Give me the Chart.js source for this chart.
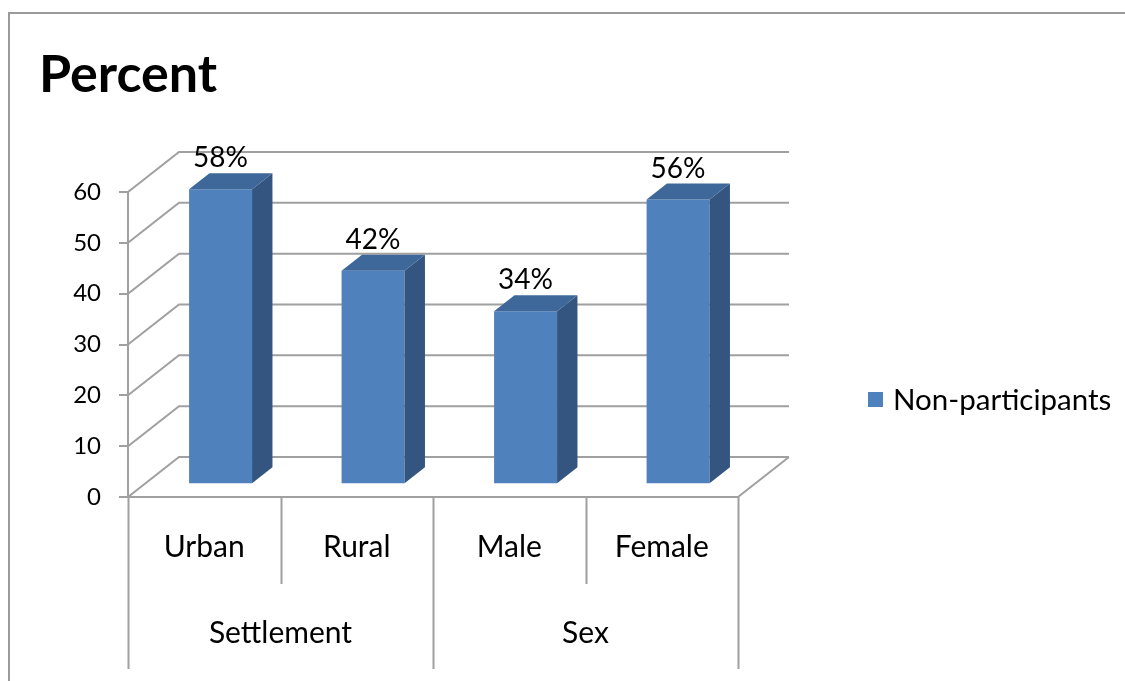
<!DOCTYPE html>
<html><head><meta charset="utf-8">
<script src="https://cdn.jsdelivr.net/npm/chart.js@4.4.1/dist/chart.umd.min.js"></script>
<style>html,body{margin:0;padding:0;background:#fff;} canvas{display:block;}</style>
</head><body>
<canvas id="c" width="1125" height="681" style="width:1125px;height:681px"></canvas>
<script>
const chartTitle = 'Percent';
const categories = ['Urban', 'Rural', 'Male', 'Female'];
const groups = ['Settlement', 'Sex'];
const groupSizes = [2, 2];
const seriesName = 'Non-participants';
const values = [58, 42, 34, 56];
const yTicks = [0, 10, 20, 30, 40, 50, 60];

const FONT = 'Lato, "Open Sans", sans-serif';
const GRID = '#a0a0a0';
const DEPTH_X = 51, DEPTH_Y = 40;
const BAR_FRONT = 0.32, BAR_BACK = 0.72;
const COL_FRONT = '#4f81bd', COL_TOP = '#3e6899', COL_SIDE = '#33557f';

const threeD = {
  id: 'threeD',
  beforeDraw(chart) {
    const ctx = chart.ctx;
    ctx.save();
    ctx.fillStyle = '#fff';
    ctx.fillRect(0, 0, chart.width, chart.height);
    ctx.strokeStyle = '#9a9a9a';
    ctx.lineWidth = 2;
    ctx.strokeRect(9, 13, chart.width + 50, chart.height + 50);
    ctx.fillStyle = '#000';
    ctx.font = 'bold 52px ' + FONT;
    ctx.textAlign = 'left';
    ctx.textBaseline = 'alphabetic';
    ctx.fillText(chartTitle, 39, 92);
    ctx.restore();
  },
  beforeDatasetsDraw(chart) {
    const ctx = chart.ctx, xs = chart.scales.x, ys = chart.scales.y;
    const L = xs.left, R = xs.right;
    ctx.save();
    ctx.strokeStyle = GRID;
    ctx.lineWidth = 2;
    ctx.beginPath();
    ys.ticks.forEach(t => {
      const py = ys.getPixelForValue(t.value);
      ctx.moveTo(L, py);
      ctx.lineTo(L + DEPTH_X, py - DEPTH_Y);
      ctx.lineTo(R + DEPTH_X, py - DEPTH_Y);
    });
    const p0 = ys.getPixelForValue(0);
    ctx.moveTo(R, p0);
    ctx.lineTo(R + DEPTH_X, p0 - DEPTH_Y);
    ctx.stroke();
    ctx.restore();
    ctx.save();
    ctx.translate(DEPTH_X * BAR_FRONT, -DEPTH_Y * BAR_FRONT);
  },
  afterDatasetsDraw(chart) {
    const ctx = chart.ctx;
    ctx.restore();
    const meta = chart.getDatasetMeta(0);
    const fx = DEPTH_X * BAR_FRONT, fy = DEPTH_Y * BAR_FRONT;
    const bx = DEPTH_X * (BAR_BACK - BAR_FRONT), by = DEPTH_Y * (BAR_BACK - BAR_FRONT);
    ctx.save();
    meta.data.forEach((bar, i) => {
      const p = bar.getProps(['x', 'y', 'base', 'width'], true);
      const l = p.x - p.width / 2 + fx, r = p.x + p.width / 2 + fx;
      const t = p.y - fy, b = p.base - fy;
      ctx.fillStyle = COL_SIDE;
      ctx.beginPath();
      ctx.moveTo(r, t); ctx.lineTo(r + bx, t - by); ctx.lineTo(r + bx, b - by); ctx.lineTo(r, b);
      ctx.closePath(); ctx.fill();
      ctx.fillStyle = COL_TOP;
      ctx.beginPath();
      ctx.moveTo(l, t); ctx.lineTo(l + bx, t - by); ctx.lineTo(r + bx, t - by); ctx.lineTo(r, t);
      ctx.closePath(); ctx.fill();
      ctx.fillStyle = '#000';
      ctx.font = '28px ' + FONT;
      ctx.textAlign = 'center';
      ctx.textBaseline = 'alphabetic';
      ctx.fillText(values[i] + '%', (l + r) / 2, t - by - 6);
    });
    ctx.restore();
  },
  afterDraw(chart) {
    const ctx = chart.ctx, xs = chart.scales.x;
    const top = chart.chartArea.bottom;
    const half = (xs.getPixelForValue(1) - xs.getPixelForValue(0)) / 2;
    ctx.save();
    ctx.strokeStyle = GRID;
    ctx.lineWidth = 2;
    ctx.beginPath();
    let idx = 0;
    const bounds = [0];
    groupSizes.forEach(n => { idx += n; bounds.push(idx); });
    for (let k = 0; k <= categories.length; k++) {
      const px = Math.round(xs.getPixelForValue(k) - half) + 0.5;
      const long = bounds.includes(k);
      ctx.moveTo(px, top);
      ctx.lineTo(px, long ? top + 172 : top + 87);
    }
    ctx.stroke();
    ctx.fillStyle = '#000';
    ctx.font = '30px ' + FONT;
    ctx.textAlign = 'center';
    ctx.textBaseline = 'middle';
    groups.forEach((g, gi) => {
      const a = xs.getPixelForValue(bounds[gi]) - half;
      const b = xs.getPixelForValue(bounds[gi + 1]) - half;
      ctx.fillText(g, (a + b) / 2, top + 136);
    });
    // legend
    ctx.fillStyle = COL_FRONT;
    ctx.fillRect(868, 392, 15, 15);
    ctx.fillStyle = '#000';
    ctx.textAlign = 'left';
    ctx.font = '29.5px ' + FONT;
    ctx.fillText(seriesName, 893, 400);
    ctx.restore();
  }
};

new Chart(document.getElementById('c'), {
  type: 'bar',
  data: {
    labels: categories,
    datasets: [{
      label: seriesName,
      data: values,
      backgroundColor: COL_FRONT,
      borderWidth: 0,
      categoryPercentage: 1,
      barPercentage: 0.413,
      clip: false
    }]
  },
  options: {
    responsive: false,
    animation: false,
    devicePixelRatio: 1,
    layout: { padding: { left: 0, top: 192, right: 387, bottom: 0 } },
    plugins: { legend: { display: false }, title: { display: false }, tooltip: { enabled: false } },
    scales: {
      x: {
        afterFit(s) { s.height = 184; },
        grid: { drawOnChartArea: false, drawTicks: false },
        border: { display: true, color: GRID, width: 2 },
        ticks: { font: { family: FONT, size: 30 }, color: '#000', padding: 32, maxRotation: 0 }
      },
      y: {
        min: 0, max: 60,
        afterFit(s) { s.width = 128; },
        afterBuildTicks(s) { s.ticks = yTicks.map(v => ({ value: v })); },
        grid: { drawOnChartArea: false, drawTicks: true, tickLength: 9, color: GRID, lineWidth: 2 },
        border: { display: true, color: GRID, width: 2 },
        ticks: { font: { family: FONT, size: 24 }, color: '#000', padding: 18 }
      }
    }
  },
  plugins: [threeD]
});
</script>
</body></html>
